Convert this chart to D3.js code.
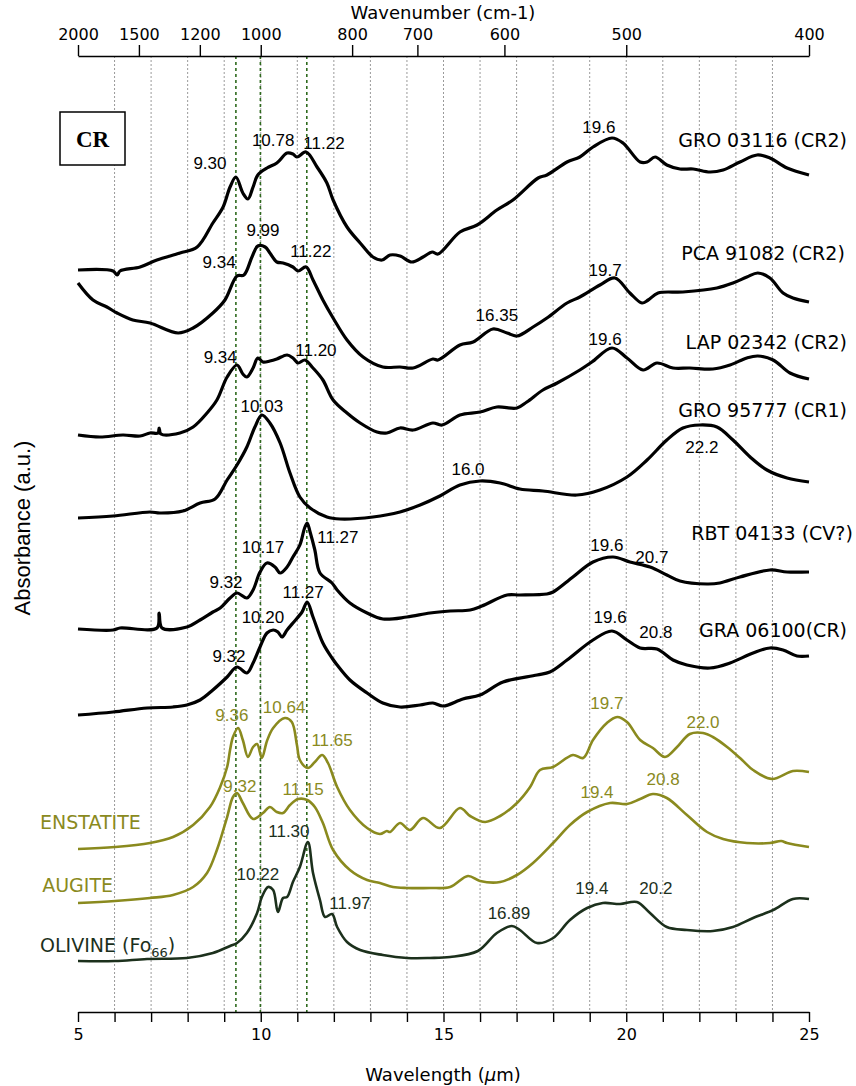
<!DOCTYPE html>
<html>
<head>
<meta charset="utf-8">
<script src="https://cdn.jsdelivr.net/npm/d3@7"></script>
<style>
body { margin: 0; background: #fff; }
</style>
</head>
<body>
<div id="chart"></div>
<script>
// spectra: [wavelength (um), absorbance offset (a.u.)]
var gro03116 = [[5.00,7.60],[5.96,7.59],[6.07,7.55],[6.15,7.59],[6.70,7.63],[7.16,7.70],[7.79,7.77],[8.26,7.83],[8.69,8.07],[8.97,8.23],[9.16,8.43],[9.32,8.53],[9.51,8.37],[9.65,8.31],[9.79,8.43],[9.92,8.55],[10.17,8.62],[10.44,8.67],[10.72,8.77],[10.88,8.76],[10.99,8.73],[11.24,8.78],[11.54,8.63],[11.81,8.47],[11.98,8.30],[12.36,8.03],[12.72,7.87],[13.07,7.73],[13.32,7.70],[13.54,7.75],[13.81,7.74],[14.13,7.68],[14.44,7.73],[14.69,7.78],[14.85,7.76],[15.45,7.98],[15.92,8.05],[16.46,8.20],[16.90,8.30],[17.59,8.52],[17.83,8.55],[18.38,8.68],[18.73,8.73],[19.09,8.83],[19.61,8.92],[19.91,8.87],[20.38,8.68],[20.57,8.68],[20.79,8.73],[21.11,8.65],[21.47,8.61],[21.83,8.61],[22.29,8.58],[22.65,8.60],[23.11,8.68],[23.58,8.75],[23.93,8.72],[24.40,8.62],[25.00,8.55]];
var pca91082 = [[5.00,7.47],[5.41,7.30],[5.79,7.23],[6.07,7.17],[6.50,7.10],[6.97,7.07],[7.74,6.97],[8.15,7.02],[8.69,7.17],[9.02,7.30],[9.35,7.54],[9.54,7.55],[9.76,7.73],[9.92,7.84],[10.12,7.83],[10.25,7.77],[10.44,7.68],[10.61,7.67],[10.88,7.63],[11.02,7.59],[11.24,7.63],[11.43,7.50],[11.70,7.30],[11.98,7.12],[12.36,6.90],[12.80,6.73],[13.34,6.63],[13.81,6.63],[14.17,6.62],[14.71,6.71],[14.85,6.70],[15.45,6.85],[15.81,6.88],[16.35,7.01],[16.74,6.97],[17.01,6.94],[17.45,7.03],[17.83,7.12],[18.38,7.27],[18.73,7.33],[19.28,7.45],[19.69,7.52],[20.10,7.37],[20.43,7.27],[20.60,7.30],[20.87,7.37],[21.55,7.38],[22.48,7.42],[22.92,7.47],[23.30,7.53],[23.60,7.57],[23.93,7.52],[24.29,7.37],[24.56,7.32],[25.00,7.28]];
var lap02342 = [[5.00,5.95],[5.60,5.93],[6.23,5.95],[6.70,5.94],[6.97,5.97],[7.19,5.97],[7.22,6.02],[7.27,5.96],[7.79,5.97],[8.15,6.03],[8.53,6.17],[8.80,6.30],[9.08,6.53],[9.35,6.65],[9.51,6.56],[9.62,6.53],[9.79,6.62],[9.92,6.72],[10.06,6.68],[10.25,6.69],[10.44,6.71],[10.72,6.75],[10.88,6.72],[11.02,6.67],[11.21,6.70],[11.43,6.62],[11.70,6.50],[11.98,6.30],[12.36,6.17],[12.72,6.07],[13.18,5.98],[13.45,5.97],[13.81,6.02],[14.17,6.00],[14.71,6.07],[14.96,6.05],[15.45,6.15],[16.00,6.18],[16.46,6.23],[17.01,6.22],[17.28,6.28],[17.72,6.40],[18.11,6.47],[18.73,6.60],[19.06,6.68],[19.61,6.82],[20.02,6.72],[20.46,6.60],[20.84,6.67],[21.28,6.62],[21.74,6.62],[22.37,6.61],[22.84,6.65],[23.30,6.72],[23.60,6.74],[24.02,6.70],[24.48,6.57],[25.00,6.51]];
var gro95777 = [[5.00,5.12],[5.96,5.14],[6.97,5.18],[7.24,5.17],[7.87,5.19],[8.34,5.27],[8.75,5.31],[9.08,5.50],[9.35,5.65],[9.62,5.83],[9.84,6.03],[10.03,6.15],[10.25,6.07],[10.53,5.87],[10.80,5.57],[11.07,5.33],[11.35,5.22],[11.81,5.13],[12.17,5.11],[13.07,5.13],[13.81,5.18],[14.36,5.25],[14.90,5.34],[15.45,5.45],[16.00,5.49],[16.55,5.47],[17.09,5.41],[17.72,5.39],[18.65,5.35],[19.28,5.40],[20.02,5.53],[20.57,5.70],[21.11,5.90],[21.55,6.02],[22.02,6.05],[22.48,6.03],[22.92,5.90],[23.39,5.73],[23.85,5.60],[24.40,5.52],[25.00,5.48]];
var rbt04133 = [[5.00,4.01],[5.96,4.00],[6.15,4.02],[7.16,4.02],[7.22,4.17],[7.30,4.02],[7.98,4.03],[8.34,4.10],[8.69,4.18],[8.89,4.22],[9.16,4.32],[9.35,4.37],[9.62,4.32],[9.79,4.40],[9.98,4.58],[10.17,4.67],[10.39,4.63],[10.53,4.57],[10.72,4.63],[10.88,4.73],[11.07,4.85],[11.20,5.02],[11.27,5.07],[11.35,4.98],[11.48,4.80],[11.62,4.57],[11.95,4.47],[12.09,4.40],[12.44,4.27],[12.91,4.17],[13.34,4.11],[14.00,4.13],[14.63,4.17],[15.18,4.19],[15.73,4.20],[16.05,4.24],[16.74,4.35],[17.09,4.35],[17.83,4.36],[18.00,4.38],[18.54,4.53],[19.09,4.68],[19.64,4.73],[20.10,4.68],[20.65,4.63],[21.11,4.55],[21.47,4.49],[22.21,4.46],[22.56,4.47],[23.11,4.53],[23.93,4.60],[24.40,4.58],[25.00,4.58]];
var gra06100 = [[5.00,3.15],[5.96,3.18],[6.89,3.22],[7.60,3.23],[7.98,3.25],[8.34,3.30],[8.69,3.40],[9.08,3.53],[9.35,3.63],[9.62,3.57],[9.79,3.67],[9.98,3.83],[10.17,3.97],[10.34,4.00],[10.47,3.98],[10.58,3.93],[10.72,4.00],[10.88,4.07],[11.13,4.18],[11.27,4.28],[11.43,4.13],[11.70,3.87],[11.95,3.72],[12.09,3.65],[12.44,3.50],[12.91,3.37],[13.34,3.27],[13.81,3.23],[14.36,3.25],[14.71,3.27],[14.99,3.24],[15.53,3.31],[16.00,3.35],[16.63,3.48],[17.56,3.55],[17.91,3.58],[18.38,3.70],[19.09,3.90],[19.61,3.99],[20.02,3.90],[20.38,3.82],[20.84,3.81],[21.28,3.70],[21.66,3.65],[22.29,3.62],[22.84,3.67],[23.47,3.77],[23.93,3.82],[24.29,3.80],[24.67,3.74],[25.00,3.74]];
var enstatite = [[5.00,1.81],[6.01,1.83],[6.97,1.87],[7.60,1.93],[8.15,2.05],[8.61,2.23],[8.89,2.43],[9.08,2.63],[9.16,2.80],[9.24,2.93],[9.38,3.02],[9.51,2.90],[9.65,2.73],[9.79,2.83],[9.90,2.86],[10.03,2.72],[10.17,2.89],[10.34,3.02],[10.66,3.12],[10.85,3.08],[10.99,2.85],[11.07,2.70],[11.29,2.62],[11.48,2.68],[11.68,2.75],[11.84,2.67],[12.09,2.43],[12.44,2.20],[12.91,2.02],[13.26,1.96],[13.45,1.99],[13.54,1.98],[13.81,2.07],[14.08,2.00],[14.44,2.12],[14.90,2.02],[15.45,2.22],[15.73,2.14],[16.14,2.08],[16.55,2.14],[17.01,2.27],[17.37,2.43],[17.64,2.60],[18.00,2.63],[18.54,2.75],[18.82,2.72],[19.09,2.90],[19.47,3.07],[19.75,3.13],[20.02,3.08],[20.38,2.90],[20.73,2.82],[21.06,2.73],[21.39,2.83],[21.74,2.96],[22.10,2.97],[22.37,2.93],[22.76,2.83],[23.17,2.70],[23.47,2.60],[23.99,2.51],[24.56,2.59],[25.00,2.58]];
var augite = [[5.00,1.27],[6.01,1.29],[6.97,1.32],[7.60,1.35],[8.15,1.43],[8.53,1.57],[8.80,1.80],[9.08,2.13],[9.24,2.33],[9.35,2.37],[9.51,2.27],[9.79,2.11],[10.06,2.17],[10.25,2.23],[10.44,2.18],[10.61,2.17],[10.80,2.25],[11.02,2.31],[11.27,2.30],[11.48,2.23],[11.70,2.07],[11.98,1.80],[12.44,1.60],[12.91,1.50],[13.26,1.47],[13.62,1.43],[14.00,1.42],[14.63,1.42],[15.18,1.43],[15.67,1.54],[16.00,1.49],[16.55,1.48],[17.01,1.55],[17.45,1.67],[18.00,1.87],[18.46,2.05],[18.93,2.18],[19.56,2.27],[20.02,2.26],[20.38,2.31],[20.73,2.36],[21.11,2.32],[21.66,2.15],[22.21,1.98],[22.65,1.91],[23.30,1.87],[23.93,1.87],[24.24,1.89],[24.40,1.87],[25.00,1.83]];
var olivine = [[5.00,0.69],[6.01,0.69],[6.89,0.71],[7.98,0.72],[8.69,0.77],[9.16,0.84],[9.35,0.87],[9.62,0.97],[9.90,1.17],[10.03,1.33],[10.20,1.43],[10.34,1.40],[10.47,1.18],[10.61,1.32],[10.72,1.33],[10.88,1.48],[11.07,1.63],[11.29,1.88],[11.43,1.57],[11.62,1.30],[11.76,1.13],[11.95,1.16],[12.09,1.03],[12.36,0.88],[12.72,0.80],[13.34,0.75],[14.00,0.72],[14.63,0.72],[15.18,0.73],[15.94,0.79],[16.46,0.97],[16.87,1.04],[17.09,1.00],[17.56,0.87],[18.00,0.92],[18.46,1.10],[18.93,1.22],[19.36,1.27],[19.83,1.26],[20.29,1.28],[20.65,1.17],[21.11,1.03],[21.66,1.00],[22.37,0.99],[22.92,1.03],[23.47,1.12],[24.02,1.20],[24.56,1.31],[25.00,1.31]];

// axis ticks
var wavenumbers = [2000, 1500, 1200, 1000, 800, 700, 600, 500, 400];
var wavelengthTicks = d3.range(5, 26);
var gridLines = d3.range(6, 25);
var markerLines = [9.32, 9.99, 11.26];

// peak labels: [text, um, a.u.]
var blackPeaks = [["9.30",8.61,8.61],["10.78",10.34,8.84],["11.22",11.73,8.81],["19.6",19.25,8.97],
  ["9.34",8.86,7.62],["9.99",10.06,7.94],["11.22",11.37,7.73],["16.35",16.46,7.09],["19.7",19.42,7.54],
  ["9.34",8.89,6.67],["11.20",11.51,6.74],["19.6",19.42,6.85],
  ["10.03",10.03,6.18],["16.0",15.67,5.55],["22.2",22.07,5.77],
  ["10.17",10.06,4.77],["11.27",12.11,4.87],["9.32",9.05,4.42],["19.6",19.47,4.79],["20.7",20.70,4.67],
  ["11.27",11.16,4.32],["10.20",10.06,4.07],["9.32",9.13,3.68],["19.6",19.56,4.07],["20.8",20.81,3.92]];
var olivePeaks = [["9.36",9.21,3.09],["10.64",10.64,3.17],["11.65",11.95,2.84],["19.7",19.47,3.21],["22.0",22.10,3.02],
  ["9.32",9.43,2.38],["11.15",11.16,2.35],["19.4",19.20,2.32],["20.8",21.01,2.45]];
var olivinePeaks = [["11.30",10.77,1.93],["10.22",9.92,1.50],["11.97",12.44,1.21],["16.89",16.79,1.11],["19.4",19.06,1.36],["20.2",20.81,1.36]];

var black = "#000", olive = "#8a8a1e", darkGreen = "#1c301c";

var series = [
  {name: "GRO 03116 (CR2)", data: gro03116, color: black, lx: 26.04, ly: 8.83, anchor: "end"},
  {name: "PCA 91082 (CR2)", data: pca91082, color: black, lx: 25.98, ly: 7.70, anchor: "end"},
  {name: "LAP 02342 (CR2)", data: lap02342, color: black, lx: 26.04, ly: 6.81, anchor: "end"},
  {name: "GRO 95777 (CR1)", data: gro95777, color: black, lx: 26.04, ly: 6.13, anchor: "end"},
  {name: "RBT 04133 (CV?)", data: rbt04133, color: black, lx: 26.20, ly: 4.90, anchor: "end"},
  {name: "GRA 06100(CR)", data: gra06100, color: black, lx: 26.04, ly: 3.93, anchor: "end"},
  {name: "ENSTATITE", data: enstatite, color: olive, lx: 3.96, ly: 2.01, anchor: "start"},
  {name: "AUGITE", data: augite, color: olive, lx: 4.02, ly: 1.38, anchor: "start"},
  {name: "OLIVINE", data: olivine, color: darkGreen, lx: 3.96, ly: 0.78, anchor: "start"}
];

var W = 856, H = 1086;
var svg = d3.select("#chart").append("svg").attr("width", W).attr("height", H);

var x = d3.scaleLinear().domain([5, 25]).range([78, 809]);
var y = d3.scaleLinear().domain([0, 10]).range([1030, 30]);
var yTop = 56, yBottom = 1012;

// dotted grid
svg.selectAll(".grid").data(gridLines).enter().append("line")
  .attr("x1", d => x(d)).attr("x2", d => x(d)).attr("y1", yTop).attr("y2", yBottom)
  .style("stroke", "#9a9a9a").style("stroke-width", 1).style("stroke-dasharray", "2,2");

// green dashed marker lines
svg.selectAll(".marker").data(markerLines).enter().append("line")
  .attr("x1", d => x(d)).attr("x2", d => x(d)).attr("y1", yTop).attr("y2", yBottom)
  .style("stroke", "#2f6a1e").style("stroke-width", 1.6).style("stroke-dasharray", "3,3");

// axes
var bottomAxis = svg.append("g").attr("transform", "translate(0," + yBottom + ")")
  .call(d3.axisBottom(x).tickValues(wavelengthTicks).tickSize(10).tickSizeOuter(0)
    .tickFormat(d => d % 5 === 0 ? d : ""));
var topAxis = svg.append("g").attr("transform", "translate(0," + yTop + ")")
  .call(d3.axisTop(x).tickValues(wavenumbers.map(w => 10000 / w)).tickSize(11).tickSizeOuter(0)
    .tickFormat((d, i) => wavenumbers[i]));
[bottomAxis, topAxis].forEach(function(g) {
  g.select(".domain").style("stroke", "#000").style("stroke-width", 1.6);
  g.selectAll(".tick line").style("stroke", "#000").style("stroke-width", 1.4);
  g.selectAll(".tick text").style("font-family", "DejaVu Sans").style("font-size", "16px").style("fill", "#000");
});
bottomAxis.selectAll(".tick text").attr("y", 17);
topAxis.selectAll(".tick text").attr("y", -16);

svg.append("text").attr("x", 443).attr("y", 19).attr("text-anchor", "middle")
  .style("font-family", "DejaVu Sans").style("font-size", "18px").text("Wavenumber (cm-1)");
var xl = svg.append("text").attr("x", 443).attr("y", 1081).attr("text-anchor", "middle")
  .style("font-family", "DejaVu Sans").style("font-size", "18px");
xl.append("tspan").text("Wavelength (");
xl.append("tspan").style("font-style", "italic").text("\u03bc");
xl.append("tspan").text("m)");
svg.append("text").attr("transform", "translate(30,528) rotate(-90)").attr("text-anchor", "middle")
  .style("font-family", "Liberation Sans, Arial").style("font-size", "22px").text("Absorbance (a.u.)");

// CR box
svg.append("rect").attr("x", 60).attr("y", 112).attr("width", 65).attr("height", 53)
  .style("fill", "#fff").style("stroke", "#000").style("stroke-width", 1.5);
svg.append("text").attr("x", 92.5).attr("y", 147).attr("text-anchor", "middle")
  .style("font-family", "Liberation Serif, Times New Roman").style("font-weight", "bold").style("font-size", "23px").text("CR");

// spectra
var line = d3.line().x(d => x(d[0])).y(d => y(d[1])).curve(d3.curveCatmullRom.alpha(0.5));
svg.selectAll(".spec").data(series).enter().append("path")
  .attr("d", d => line(d.data))
  .style("fill", "none").style("stroke", d => d.color)
  .style("stroke-width", d => d.color === black ? 3.2 : 2.6)
  .style("stroke-linejoin", "round");

// series names
series.forEach(function(s) {
  var t = svg.append("text").attr("x", x(s.lx)).attr("y", y(s.ly)).attr("text-anchor", s.anchor)
    .style("font-family", "DejaVu Sans").style("font-size", "19px").style("fill", s.color).text(s.name);
  if (s.name === "OLIVINE") {
    t.append("tspan").text(" (Fo");
    t.append("tspan").attr("dy", 5).style("font-size", "13px").text("66");
    t.append("tspan").attr("dy", -5).text(")");
  }
});

// peak labels
[[blackPeaks, black], [olivePeaks, olive], [olivinePeaks, darkGreen]].forEach(function(p) {
  svg.selectAll(null).data(p[0]).enter().append("text")
    .attr("x", d => x(d[1])).attr("y", d => y(d[2])).attr("text-anchor", "middle")
    .style("font-family", "Liberation Sans, Arial").style("font-size", "17px").style("fill", p[1])
    .text(d => d[0]);
});
</script>
</body>
</html>
